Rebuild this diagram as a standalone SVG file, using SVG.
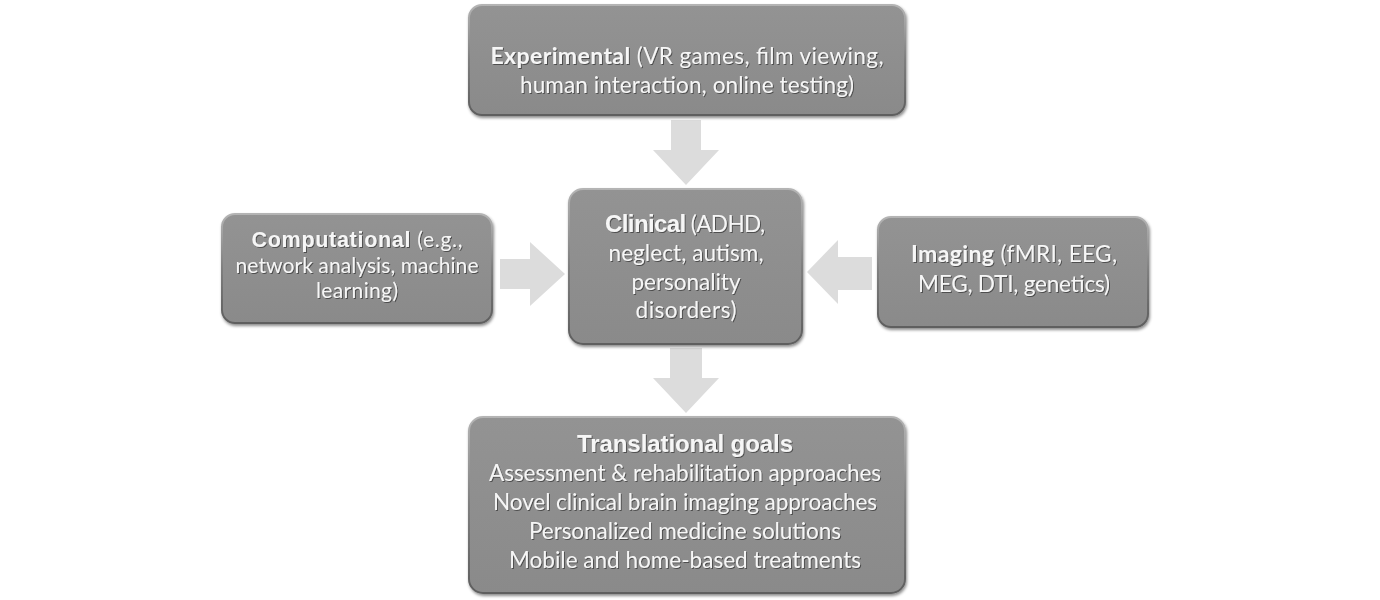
<svg xmlns="http://www.w3.org/2000/svg" width="1380" height="600" viewBox="0 0 1380 600">
<defs>
<filter id="sh" x="-5%" y="-5%" width="112%" height="115%">
<feDropShadow dx="1" dy="2" stdDeviation="1.5" flood-color="#000" flood-opacity="0.45"/>
</filter>
<filter id="tsh" x="-5%" y="-20%" width="110%" height="140%">
<feDropShadow dx="1" dy="1" stdDeviation="0.6" flood-color="#333" flood-opacity="0.7"/>
</filter>
<linearGradient id="bfill" x1="0" y1="0" x2="0" y2="1">
<stop offset="0" stop-color="#939393"/>
<stop offset="1" stop-color="#8a8a8a"/>
</linearGradient>
<linearGradient id="bstroke" x1="0" y1="0" x2="0" y2="1">
<stop offset="0" stop-color="#b4b4b4"/>
<stop offset="0.5" stop-color="#7e7e7e"/>
<stop offset="1" stop-color="#5e5e5e"/>
</linearGradient>
</defs>
<style>
.box{fill:url(#bfill);stroke:url(#bstroke);stroke-width:2;filter:url(#sh)}
.arr{fill:#dcdcdc}
text{fill:#f6f6f6;text-anchor:middle;filter:url(#tsh)}
.r{font-family:Lato,"Open Sans",sans-serif;font-size:22.5px}
.s{font-size:21px}
.ba{font-family:"Liberation Sans",Arial,sans-serif;font-weight:bold}
.bc{font-family:Lato,"Open Sans",sans-serif;font-weight:bold}
</style>
<rect width="1380" height="600" fill="#ffffff"/>
<g id="connectors">
<polygon class="arr" points="671,120 701,120 701,150 719,150 686,185 653,150 671,150"/>
<polygon class="arr" points="670,348 702,348 702,378 719,378 686,413 653,378 670,378"/>
<polygon class="arr" points="500,259 530,259 530,242 565,274 530,306 530,289 500,289"/>
<polygon class="arr" points="872,257 838,257 838,240 807,272 838,304 838,290 872,290"/>
</g>
<g id="experimental">
<rect class="box" x="469" y="5" width="436" height="110" rx="13"/>
<text class="r" x="687" y="64" textLength="393"><tspan class="bc" font-size="23">Experimental</tspan> (VR games, film viewing,</text>
<text class="r" x="687" y="93" textLength="334">human interaction, online testing)</text>
</g>
<g id="clinical">
<rect class="box" x="569" y="189" width="233" height="155" rx="14"/>
<text class="r" x="685" y="232" textLength="160"><tspan class="ba" font-size="24">Clinical</tspan> (ADHD,</text>
<text class="r" x="686" y="261" textLength="155">neglect, autism,</text>
<text class="r" x="686" y="290" textLength="109">personality</text>
<text class="r" x="686" y="318" textLength="101">disorders)</text>
</g>
<g id="computational">
<rect class="box" x="222" y="214" width="270" height="109" rx="13"/>
<text class="r s" x="357" y="247" textLength="211"><tspan class="ba" font-size="21.5">Computational</tspan> (e.g.,</text>
<text class="r s" x="357" y="273" textLength="243">network analysis, machine</text>
<text class="r s" x="357" y="298" textLength="82">learning)</text>
</g>
<g id="imaging">
<rect class="box" x="878" y="217" width="270" height="110" rx="13"/>
<text class="r" x="1014" y="262" textLength="206"><tspan class="bc" font-size="23">Imaging</tspan> (fMRI, EEG,</text>
<text class="r" x="1014" y="292" textLength="192">MEG, DTI, genetics)</text>
</g>
<g id="translational">
<rect class="box" x="469" y="417" width="436" height="176" rx="14"/>
<text class="ba" x="685" y="452" font-size="24" textLength="216">Translational goals</text>
<text class="r" x="685" y="481" textLength="392">Assessment &amp; rehabilitation approaches</text>
<text class="r" x="685" y="510" textLength="384">Novel clinical brain imaging approaches</text>
<text class="r" x="685" y="539" textLength="312">Personalized medicine solutions</text>
<text class="r" x="685" y="568" textLength="352">Mobile and home-based treatments</text>
</g>
</svg>
